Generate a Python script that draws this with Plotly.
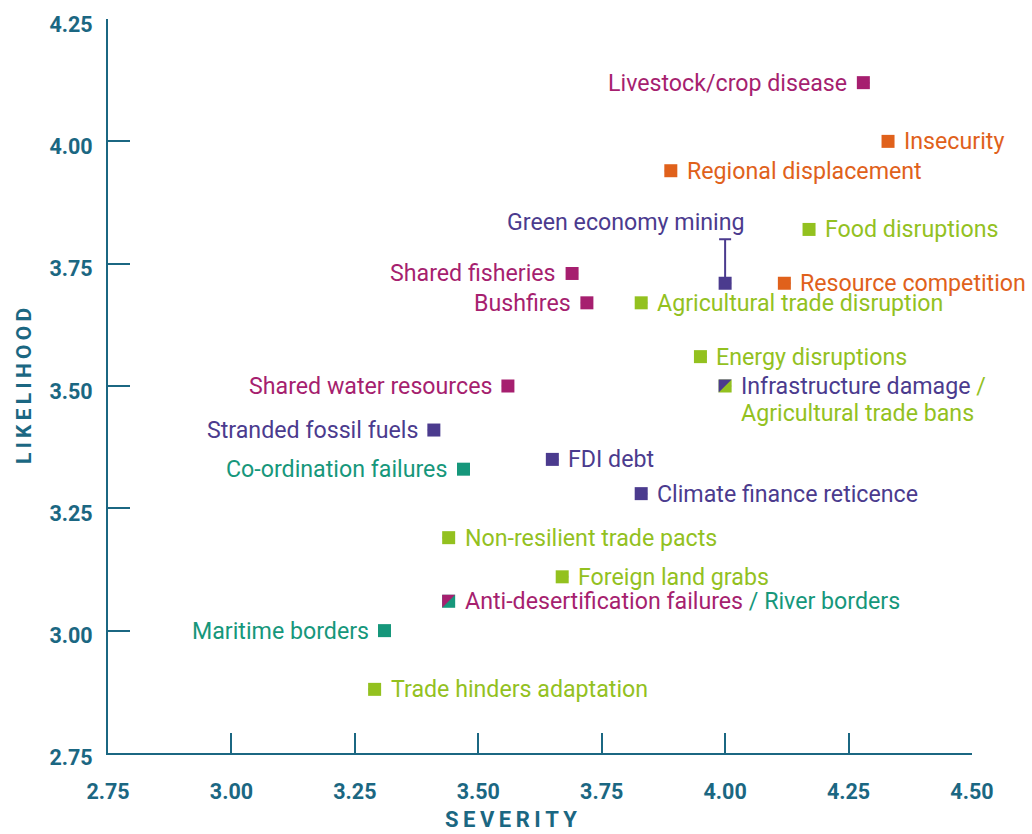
import plotly.graph_objects as go

# ---- data ----
labels = [
    "Livestock/crop disease", "Insecurity", "Regional displacement", "Green economy mining",
    "Food disruptions", "Resource competition", "Shared fisheries", "Bushfires",
    "Agricultural trade disruption", "Energy disruptions", "Infrastructure damage",
    "Shared water resources", "Stranded fossil fuels", "FDI debt", "Co-ordination failures",
    "Climate finance reticence", "Non-resilient trade pacts", "Foreign land grabs",
    "Anti-desertification failures", "Maritime borders", "Trade hinders adaptation",
]
severity = [4.28, 4.33, 3.89, 4.00, 4.17, 4.12, 3.69, 3.72, 3.83, 3.95, 4.00,
            3.56, 3.41, 3.65, 3.47, 3.83, 3.44, 3.67, 3.44, 3.31, 3.29]
likelihood = [4.12, 4.00, 3.94, 3.71, 3.82, 3.71, 3.73, 3.67, 3.67, 3.56, 3.50,
              3.50, 3.41, 3.35, 3.33, 3.28, 3.19, 3.11, 3.06, 3.00, 2.88]
groups = ["env", "sec", "sec", "eco", "trade", "sec", "env", "env", "trade", "trade", "eco",
          "env", "eco", "eco", "gov", "eco", "trade", "trade", "env", "gov", "trade"]

# shared points (second risk at same coordinates)
shared_labels = {"Infrastructure damage": ("Agricultural trade bans", "trade"),
                 "Anti-desertification failures": ("River borders", "gov")}

# uncertainty for Green economy mining (upper only)
err_upper = {"Green economy mining": 0.09}

x_ticks = [2.75, 3.00, 3.25, 3.50, 3.75, 4.00, 4.25, 4.50]
y_ticks = [2.75, 3.00, 3.25, 3.50, 3.75, 4.00, 4.25]

# ---- styles ----
colors = {"env": "#a61f6f", "sec": "#e0611b", "eco": "#4b3b8e",
          "trade": "#93c11f", "gov": "#16977b"}
axis_color = "#1b6782"
left_labels = {"Livestock/crop disease", "Shared fisheries", "Bushfires", "Shared water resources",
               "Stranded fossil fuels", "Co-ordination failures", "Maritime borders"}
above_labels = {"Green economy mining"}
font_family = "Roboto"
label_size = 23.2
msize = 13
gap = 14

fig = go.Figure()

base_colors = []
for lab, g in zip(labels, groups):
    if lab in shared_labels:
        base_colors.append(colors[shared_labels[lab][1]])
    else:
        base_colors.append(colors[g])

err_arr = [err_upper.get(l, 0) for l in labels]
fig.add_trace(go.Scatter(
    x=severity, y=likelihood, mode="markers",
    marker=dict(symbol="square", size=msize, color=base_colors, line=dict(width=0)),
    error_y=dict(type="data", symmetric=False, array=err_arr,
                 arrayminus=[0] * len(labels), color=colors["eco"], thickness=2, width=6),
    hoverinfo="text", text=labels, showlegend=False,
))

# top-left triangles for shared points
s = msize / 2
for lab, xv, yv, g in zip(labels, severity, likelihood, groups):
    if lab in shared_labels:
        fig.add_shape(type="path", xref="x", yref="y", xsizemode="pixel", ysizemode="pixel",
                      xanchor=xv, yanchor=yv,
                      path=f"M{-s},{-s} L{-s},{s} L{s},{s} Z",
                      fillcolor=colors[g], line=dict(width=0), layer="above")

# labels
lfont = lambda c: dict(family=font_family, size=label_size, color=c)
for lab, xv, yv, g in zip(labels, severity, likelihood, groups):
    c = colors[g]
    if lab in shared_labels:
        other, og = shared_labels[lab]
        oc = colors[og]
        if lab == "Infrastructure damage":
            txt = f'<span style="color:{c}">{lab}</span> <span style="color:{oc}">/</span>'
            fig.add_annotation(x=xv, y=yv, text=txt, showarrow=False, xanchor="left",
                               xshift=gap, font=lfont(c))
            fig.add_annotation(x=xv, y=yv, text=other, showarrow=False, xanchor="left",
                               xshift=gap, yshift=-27, font=lfont(oc))
        else:
            txt = (f'<span style="color:{c}">{lab}</span> '
                   f'<span style="color:{oc}">/ {other}</span>')
            fig.add_annotation(x=xv, y=yv, text=txt, showarrow=False, xanchor="left",
                               xshift=gap, font=lfont(c))
        continue
    if lab in above_labels:
        fig.add_annotation(x=xv, y=yv + err_upper.get(lab, 0), text=lab, showarrow=False,
                           xanchor="right", yanchor="bottom", xshift=22, yshift=1,
                           font=lfont(c))
    elif lab in left_labels:
        fig.add_annotation(x=xv, y=yv, text=lab, showarrow=False, xanchor="right",
                           xshift=-gap, font=lfont(c))
    else:
        fig.add_annotation(x=xv, y=yv, text=lab, showarrow=False, xanchor="left",
                           xshift=gap, font=lfont(c))

tickfont = dict(family=font_family, size=21.5, color=axis_color, weight=700)
fig.update_xaxes(range=[x_ticks[0] - 1e-4, x_ticks[-1] + 1e-4], tickvals=x_ticks,
                 ticktext=[f"{v:.2f}" for v in x_ticks],
                 showgrid=False, zeroline=False, showline=True, linecolor=axis_color,
                 linewidth=2, ticks="inside", ticklen=20, tickwidth=2, tickcolor=axis_color,
                 tickfont=tickfont, ticklabelstandoff=18)
fig.update_yaxes(range=[y_ticks[0] - 1e-4, y_ticks[-1] + 1e-4], tickvals=y_ticks,
                 ticktext=[f"{v:.2f}" for v in y_ticks],
                 showgrid=False, zeroline=False, showline=True, linecolor=axis_color,
                 linewidth=2, ticks="inside", ticklen=22, tickwidth=2, tickcolor=axis_color,
                 tickfont=tickfont, ticklabelstandoff=9, ticklabelshift=5)

thin = "\u2009"
fig.add_annotation(xref="paper", yref="paper", x=0.5, y=0, yanchor="middle",
                   yshift=-66, xshift=-29, text=thin.join("SEVERITY"), showarrow=False,
                   font=dict(family=font_family, size=22, color=axis_color, weight=700))
fig.add_annotation(xref="paper", yref="paper", x=0, y=0.5, xanchor="center",
                   xshift=-84, text=thin.join("LIKELIHOOD"), showarrow=False, textangle=-90,
                   font=dict(family=font_family, size=21, color=axis_color, weight=700))

fig.update_layout(width=1032, height=834, margin=dict(l=108, r=60, t=12, b=81),
                  plot_bgcolor="white", paper_bgcolor="white",
                  font=dict(family=font_family))

fig.write_html("out.html", config={"displayModeBar": False},
               post_script="document.body.style.margin='0';document.body.style.padding='0';")
